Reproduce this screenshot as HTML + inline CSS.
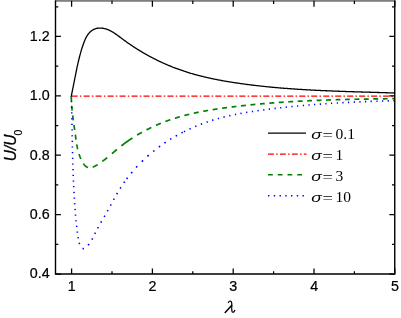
<!DOCTYPE html>
<html><head><meta charset="utf-8"><title>U/U0 vs lambda</title>
<style>
html,body{margin:0;padding:0;background:#fff;}
body{width:401px;height:318px;overflow:hidden;position:relative;font-family:"Liberation Sans",sans-serif;}
svg{position:absolute;left:0;top:0;display:block;will-change:transform;}
.t{font-family:"Liberation Sans",sans-serif;font-size:14.3px;fill:#000;stroke:#000;stroke-width:0.22px;}
.s{font-family:"Liberation Serif",serif;font-size:15.5px;fill:#000;}
</style></head><body>
<svg width="401" height="318" viewBox="0 0 401 318">
<rect x="0" y="0" width="401" height="318" fill="#fff"/>
<g fill="none" stroke-linecap="butt" stroke-linejoin="round">
<path d="M71.60,96.05 H394.75" stroke="#ff0000" stroke-width="1.3" stroke-dasharray="6.1 2.19 1.5 2.19"/>
<path d="M71.30,96.00 L71.30,96.53 L71.31,97.05 L71.31,97.58 L71.32,98.11 L71.34,98.64 L71.35,99.16 L71.37,99.69 L71.39,100.22 L71.41,100.75 L71.42,101.01 M71.70,105.78 L71.74,106.31 L71.79,106.84 L71.83,107.37 L71.87,107.90 L71.92,108.43 L71.97,108.96 L72.02,109.49 L72.07,110.02 L72.13,110.55 L72.14,110.68 M72.66,115.32 L72.72,115.85 L72.79,116.38 L72.85,116.91 L72.92,117.44 L72.99,117.97 L73.06,118.50 L73.13,119.03 L73.20,119.56 L73.27,120.09 L73.30,120.35 M73.95,124.98 L74.02,125.50 L74.10,126.03 L74.17,126.56 L74.25,127.08 L74.32,127.61 L74.40,128.14 L74.48,128.66 L74.55,129.19 L74.63,129.71 L74.66,129.98 M75.33,134.69 L75.40,135.21 L75.47,135.73 L75.54,136.25 L75.61,136.77 L75.68,137.29 L75.75,137.81 L75.83,138.33 L75.90,138.85 L75.97,139.37 L76.01,139.63 M76.72,144.28 L76.81,144.80 L76.91,145.31 L77.00,145.83 L77.10,146.35 L77.20,146.86 L77.31,147.38 L77.41,147.90 L77.53,148.41 L77.64,148.93 L77.73,149.31 M79.01,153.96 L79.18,154.47 L79.35,154.99 L79.53,155.50 L79.72,156.02 L79.91,156.54 L80.11,157.05 L80.31,157.57 L80.53,158.09 L80.74,158.61 L80.91,158.99 M83.37,163.59 L83.68,164.03 L84.00,164.46 L84.33,164.86 L84.67,165.25 L85.02,165.62 L85.39,165.96 L85.76,166.28 L86.14,166.57 L86.53,166.83 L86.94,167.06 L87.36,167.26 L87.79,167.43 L88.01,167.50 M92.71,167.15 L93.19,166.96 L93.68,166.75 L94.16,166.53 L94.64,166.28 L95.13,166.03 L95.61,165.76 L96.09,165.48 L96.56,165.20 L97.04,164.91 L97.51,164.61 L97.63,164.54 M102.26,161.39 L102.70,161.08 L103.13,160.76 L103.57,160.43 L104.00,160.11 L104.42,159.78 L104.85,159.46 L105.27,159.13 L105.69,158.80 L106.11,158.47 L106.53,158.14 L106.95,157.80 L107.26,157.55 M111.96,153.66 L112.36,153.32 L112.76,152.98 L113.16,152.63 L113.57,152.29 L113.97,151.95 L114.37,151.61 L114.77,151.27 L115.17,150.93 L115.58,150.59 L115.98,150.25 L116.38,149.91 L116.79,149.58 L116.99,149.41 M121.38,145.85 L121.79,145.52 L122.21,145.20 L122.63,144.88 L123.05,144.56 L123.47,144.24 L123.89,143.93 L124.31,143.61 L124.74,143.30 L125.16,142.98 L125.59,142.67 L126.02,142.36 L126.44,142.06 L126.87,141.75 L127.30,141.44 L127.74,141.14 L128.17,140.84 L128.60,140.54 L129.04,140.24 L129.48,139.94 L129.91,139.64 L130.35,139.35 L130.79,139.05 L131.23,138.76 L131.68,138.47 L132.12,138.18 L132.45,137.97 M137.06,135.09 L137.52,134.82 L137.98,134.55 L138.43,134.28 L138.89,134.01 L139.35,133.75 L139.81,133.48 L140.27,133.22 L140.73,132.96 L141.20,132.70 L141.66,132.44 L141.89,132.31 M146.46,129.86 L146.94,129.62 L147.41,129.38 L147.88,129.14 L148.36,128.90 L148.84,128.66 L149.31,128.43 L149.79,128.20 L150.27,127.96 L150.75,127.73 L151.23,127.50 L151.35,127.44 M155.95,125.34 L156.43,125.13 L156.92,124.91 L157.41,124.70 L157.90,124.49 L158.39,124.29 L158.88,124.08 L159.37,123.87 L159.86,123.67 L160.35,123.47 L160.85,123.27 M165.43,121.48 L165.92,121.30 L166.42,121.12 L166.92,120.93 L167.42,120.75 L167.92,120.57 L168.42,120.40 L168.92,120.22 L169.42,120.04 L169.92,119.87 L170.30,119.74 M174.83,118.25 L175.34,118.10 L175.84,117.94 L176.35,117.78 L176.86,117.63 L177.36,117.48 L177.87,117.32 L178.38,117.17 L178.89,117.03 L179.40,116.88 L179.78,116.77 M184.37,115.50 L184.88,115.37 L185.40,115.23 L185.91,115.10 L186.42,114.97 L186.94,114.84 L187.45,114.71 L187.96,114.59 L188.48,114.46 L188.99,114.33 L189.25,114.27 M193.77,113.22 L194.28,113.11 L194.80,113.00 L195.32,112.88 L195.84,112.77 L196.36,112.66 L196.87,112.55 L197.39,112.44 L197.91,112.34 L198.43,112.23 L198.69,112.18 M203.25,111.29 L203.77,111.19 L204.29,111.09 L204.81,111.00 L205.33,110.90 L205.86,110.81 L206.38,110.71 L206.90,110.62 L207.42,110.53 L207.95,110.44 L208.08,110.41 M212.66,109.65 L213.19,109.57 L213.71,109.48 L214.24,109.40 L214.76,109.32 L215.29,109.24 L215.81,109.16 L216.34,109.08 L216.86,109.00 L217.39,108.92 L217.52,108.90 M222.12,108.24 L222.65,108.16 L223.17,108.09 L223.70,108.02 L224.23,107.94 L224.75,107.87 L225.28,107.80 L225.81,107.73 L226.33,107.66 L226.86,107.59 L226.99,107.58 M231.61,106.99 L232.13,106.92 L232.66,106.86 L233.19,106.79 L233.71,106.73 L234.24,106.66 L234.77,106.60 L235.30,106.53 L235.82,106.47 L236.35,106.41 L236.48,106.39 M240.97,105.88 L241.50,105.82 L242.02,105.76 L242.55,105.70 L243.08,105.64 L243.61,105.58 L244.13,105.53 L244.66,105.47 L245.19,105.41 L245.72,105.36 L245.85,105.34 M250.47,104.86 L251.00,104.81 L251.53,104.76 L252.05,104.71 L252.58,104.65 L253.11,104.60 L253.64,104.55 L254.17,104.50 L254.69,104.45 L255.22,104.40 L255.36,104.39 M259.98,103.96 L260.51,103.91 L261.04,103.86 L261.56,103.82 L262.09,103.77 L262.62,103.72 L263.15,103.68 L263.68,103.63 L264.21,103.59 L264.74,103.54 M269.36,103.16 L269.89,103.12 L270.42,103.08 L270.95,103.04 L271.48,103.00 L272.01,102.96 L272.53,102.92 L273.06,102.87 L273.59,102.83 L274.12,102.79 L274.25,102.78 M278.75,102.46 L279.28,102.42 L279.81,102.38 L280.34,102.35 L280.87,102.31 L281.40,102.28 L281.93,102.24 L282.45,102.20 L282.98,102.17 L283.51,102.13 L283.65,102.12 M288.28,101.83 L288.81,101.80 L289.34,101.76 L289.87,101.73 L290.40,101.70 L290.92,101.67 L291.45,101.64 L291.98,101.61 L292.51,101.58 L293.04,101.55 L293.18,101.54 M297.68,101.29 L298.21,101.26 L298.74,101.23 L299.27,101.20 L299.80,101.18 L300.33,101.15 L300.86,101.12 L301.39,101.09 L301.92,101.07 L302.45,101.04 L302.58,101.03 M307.21,100.81 L307.74,100.79 L308.27,100.76 L308.80,100.74 L309.33,100.71 L309.86,100.69 L310.39,100.67 L310.92,100.64 L311.45,100.62 L311.98,100.60 M316.62,100.40 L317.15,100.38 L317.68,100.36 L318.21,100.34 L318.74,100.32 L319.27,100.30 L319.80,100.28 L320.33,100.26 L320.86,100.24 L321.39,100.22 L321.53,100.22 M326.03,100.06 L326.56,100.04 L327.10,100.02 L327.63,100.00 L328.16,99.98 L328.69,99.97 L329.22,99.95 L329.75,99.93 L330.28,99.92 L330.81,99.90 L330.94,99.89 M335.58,99.75 L336.11,99.74 L336.64,99.72 L337.17,99.71 L337.70,99.69 L338.23,99.68 L338.77,99.66 L339.30,99.65 L339.83,99.64 L340.36,99.62 M345.00,99.50 L345.53,99.49 L346.06,99.48 L346.59,99.46 L347.12,99.45 L347.65,99.44 L348.18,99.43 L348.71,99.41 L349.25,99.40 L349.78,99.39 M354.42,99.29 L354.95,99.28 L355.48,99.27 L356.01,99.25 L356.54,99.24 L357.07,99.23 L357.60,99.22 L358.14,99.21 L358.67,99.20 L359.20,99.19 L359.33,99.19 M363.84,99.11 L364.37,99.10 L364.90,99.09 L365.43,99.08 L365.96,99.07 L366.50,99.06 L367.03,99.05 L367.56,99.04 L368.09,99.03 L368.62,99.02 L368.75,99.02 M373.26,98.95 L373.80,98.94 L374.33,98.93 L374.86,98.92 L375.39,98.91 L375.92,98.91 L376.45,98.90 L376.98,98.89 L377.51,98.88 L378.04,98.87 L378.17,98.87 M382.82,98.81 L383.35,98.80 L383.88,98.79 L384.41,98.78 L384.94,98.78 L385.47,98.77 L386.01,98.76 L386.54,98.75 L387.07,98.75 L387.60,98.74 M392.24,98.68 L392.77,98.67 L393.31,98.66 L393.84,98.66 L394.37,98.65 L394.50,98.65" stroke="#008000" stroke-width="1.7"/>
<path d="M71.30,96.00 L71.32,96.53 M71.45,101.10 L71.47,101.80 L71.48,102.33 M71.59,106.72 L71.61,107.42 L71.62,107.95 M71.73,112.34 L71.74,113.04 L71.75,113.57 M71.85,118.13 L71.87,118.83 L71.88,119.36 M71.97,123.75 L71.98,124.45 L71.99,124.98 M72.08,129.37 L72.09,130.07 L72.10,130.60 M72.19,135.16 L72.20,135.86 L72.21,136.39 M72.30,140.77 L72.31,141.48 L72.32,142.00 M72.42,146.39 L72.43,147.09 L72.44,147.62 M72.54,152.00 L72.56,152.71 L72.57,153.23 M72.68,157.80 L72.70,158.50 L72.72,159.02 M72.84,163.41 L72.86,164.11 L72.87,164.64 M73.01,169.03 L73.03,169.73 L73.05,170.26 M73.21,174.82 L73.23,175.52 L73.25,176.05 M73.43,180.44 L73.46,181.14 L73.48,181.67 M73.68,186.05 L73.71,186.76 L73.73,187.28 M73.97,191.85 L74.00,192.55 L74.03,193.08 M74.28,197.47 L74.32,198.17 L74.36,198.70 M74.64,203.09 L74.68,203.79 L74.72,204.32 M75.05,208.87 L75.10,209.57 L75.14,210.10 M75.50,214.47 L75.56,215.16 L75.60,215.69 M76.02,220.21 L76.08,220.91 L76.13,221.43 M76.58,225.77 L76.66,226.46 L76.72,226.98 M77.26,231.51 L77.35,232.21 L77.42,232.74 M78.05,237.14 L78.16,237.85 L78.25,238.39 M79.18,242.77 L79.39,243.44 L79.64,244.10 M82.56,248.36 L83.10,248.60 L83.67,248.63 L83.96,248.57 M88.02,245.29 L88.48,244.75 L88.92,244.21 L89.13,243.93 M91.89,239.64 L92.22,239.01 L92.56,238.39 M94.77,233.92 L95.09,233.28 L95.40,232.64 M97.69,228.27 L98.02,227.65 L98.36,227.03 M100.83,222.61 L101.18,222.01 L101.52,221.40 L101.61,221.25 M104.13,216.88 L104.48,216.28 L104.83,215.67 M107.33,211.27 L107.68,210.66 L108.02,210.04 M110.47,205.57 L110.80,204.95 L111.14,204.32 M113.58,199.81 L113.92,199.19 L114.27,198.57 M116.69,194.25 L117.04,193.63 L117.40,193.02 M120.13,188.48 L120.51,187.88 L120.89,187.29 M123.82,182.89 L124.22,182.32 L124.63,181.74 L124.73,181.60 M126.69,178.90 L127.12,178.34 L127.54,177.78 L127.65,177.64 M131.14,173.24 L131.58,172.70 L132.04,172.16 L132.26,171.90 M136.08,167.55 L136.55,167.04 L137.03,166.52 L137.27,166.27 M141.79,161.63 L142.29,161.14 L142.80,160.65 L143.05,160.41 M147.42,156.37 L147.94,155.90 L148.47,155.44 L148.73,155.21 M153.16,151.49 L153.71,151.05 L154.26,150.61 L154.39,150.50 M158.84,147.09 L159.41,146.67 L159.98,146.26 L160.12,146.16 M164.43,143.13 L165.01,142.74 L165.59,142.35 L165.74,142.25 M170.17,139.40 L170.76,139.03 L171.36,138.66 M175.75,136.07 L176.36,135.72 L176.97,135.38 L177.12,135.29 M181.45,132.95 L182.07,132.62 L182.70,132.30 M183.95,131.66 L184.58,131.35 L185.05,131.12 M189.49,128.99 L190.13,128.70 L190.77,128.41 M195.12,126.51 L195.77,126.24 L196.42,125.97 M200.83,124.22 L201.49,123.97 L202.14,123.72 M206.61,122.13 L207.27,121.90 L207.77,121.73 M212.11,120.33 L212.78,120.12 L213.45,119.92 M217.83,118.65 L218.50,118.47 L219.01,118.33 M223.42,117.18 L224.11,117.01 L224.79,116.84 M229.23,115.80 L229.91,115.65 L230.43,115.53 M234.90,114.59 L235.59,114.45 L236.10,114.35 M240.42,113.52 L241.11,113.39 L241.63,113.30 M246.13,112.51 L246.83,112.39 L247.35,112.31 M251.87,111.58 L252.56,111.48 L253.09,111.40 M257.44,110.75 L258.14,110.65 L258.66,110.57 M263.19,109.94 L263.89,109.85 L264.41,109.78 M268.77,109.21 L269.47,109.12 L269.99,109.05 M274.52,108.49 L275.22,108.40 L275.75,108.34 M280.11,107.83 L280.80,107.75 L281.33,107.69 M285.69,107.20 L286.39,107.13 L286.91,107.07 M291.45,106.60 L292.15,106.53 L292.67,106.47 M297.04,106.05 L297.74,105.98 L298.26,105.93 M302.81,105.51 L303.50,105.45 L304.03,105.40 M308.40,105.02 L309.10,104.96 L309.62,104.92 M313.99,104.57 L314.69,104.51 L315.22,104.47 M319.76,104.13 L320.46,104.08 L320.99,104.04 M325.36,103.73 L326.06,103.68 L326.59,103.65 M330.96,103.36 L331.66,103.32 L332.19,103.28 M336.74,103.01 L337.44,102.97 L337.97,102.93 M342.35,102.69 L343.05,102.65 L343.58,102.62 M347.96,102.39 L348.66,102.36 L349.18,102.33 M353.74,102.11 L354.44,102.08 L354.97,102.06 M359.36,101.86 L360.06,101.83 L360.58,101.81 M364.97,101.63 L365.67,101.60 L366.20,101.58 M370.59,101.42 L371.29,101.39 L371.82,101.38 M376.39,101.22 L377.09,101.20 L377.62,101.18 M382.01,101.04 L382.72,101.02 L383.24,101.01 M387.64,100.88 L388.34,100.86 L388.87,100.85 M393.27,100.74 L393.97,100.72 L394.50,100.70" stroke="#0000ff" stroke-width="1.6"/>
<path d="M71.30,96.00 L71.46,95.25 L71.62,94.50 L71.77,93.75 L71.93,93.00 L72.08,92.24 L72.24,91.49 L72.39,90.74 L72.54,89.98 L72.70,89.22 L72.85,88.47 L73.00,87.71 L73.15,86.95 L73.30,86.19 L73.45,85.43 L73.60,84.67 L73.75,83.91 L73.90,83.15 L74.05,82.39 L74.19,81.63 L74.34,80.87 L74.49,80.11 L74.64,79.35 L74.79,78.59 L74.94,77.83 L75.09,77.07 L75.24,76.31 L75.40,75.55 L75.55,74.79 L75.70,74.03 L75.85,73.27 L76.01,72.51 L76.16,71.75 L76.32,70.99 L76.48,70.24 L76.63,69.48 L76.79,68.72 L76.95,67.97 L77.11,67.21 L77.27,66.46 L77.44,65.71 L77.60,64.96 L77.77,64.21 L77.94,63.46 L78.11,62.71 L78.28,61.97 L78.45,61.22 L78.62,60.48 L78.80,59.73 L78.98,58.99 L79.16,58.25 L79.34,57.51 L79.53,56.77 L79.72,56.03 L79.91,55.29 L80.11,54.56 L80.31,53.82 L80.51,53.08 L80.72,52.35 L80.93,51.61 L81.14,50.87 L81.36,50.13 L81.59,49.40 L81.82,48.66 L82.05,47.92 L82.29,47.18 L82.54,46.44 L82.79,45.70 L83.05,44.95 L83.31,44.21 L83.58,43.47 L83.85,42.72 L84.14,41.97 L84.43,41.23 L84.73,40.49 L85.04,39.75 L85.37,39.02 L85.71,38.30 L86.06,37.59 L86.43,36.90 L86.82,36.22 L87.22,35.55 L87.65,34.90 L88.10,34.27 L88.57,33.66 L89.07,33.08 L89.59,32.52 L90.13,31.98 L90.69,31.47 L91.28,31.00 L91.89,30.55 L92.52,30.14 L93.16,29.75 L93.83,29.41 L94.51,29.10 L95.21,28.83 L95.93,28.60 L96.66,28.41 L97.40,28.26 L98.15,28.16 L98.92,28.09 L99.68,28.06 L100.45,28.06 L101.22,28.09 L101.99,28.16 L102.75,28.25 L103.50,28.38 L104.24,28.53 L104.97,28.70 L105.69,28.90 L106.41,29.12 L107.12,29.37 L107.82,29.63 L108.51,29.92 L109.20,30.22 L109.88,30.54 L110.56,30.88 L111.23,31.24 L111.89,31.61 L112.56,32.00 L113.21,32.39 L113.86,32.80 L114.51,33.23 L115.16,33.66 L115.80,34.10 L116.44,34.54 L117.08,35.00 L117.71,35.46 L118.35,35.93 L118.98,36.39 L119.61,36.87 L120.24,37.34 L120.87,37.82 L121.51,38.29 L122.14,38.76 L122.77,39.23 L123.41,39.70 L124.04,40.17 L124.68,40.63 L125.32,41.09 L125.96,41.55 L126.60,42.01 L127.24,42.46 L127.88,42.91 L128.52,43.36 L129.17,43.80 L129.81,44.25 L130.46,44.69 L131.10,45.13 L131.75,45.56 L132.40,45.99 L133.05,46.42 L133.70,46.85 L134.36,47.28 L135.01,47.70 L135.66,48.12 L136.32,48.54 L136.98,48.95 L137.63,49.37 L138.29,49.78 L138.95,50.18 L139.61,50.59 L140.28,50.99 L140.94,51.39 L141.60,51.79 L142.27,52.18 L142.94,52.57 L143.60,52.96 L144.27,53.35 L144.94,53.74 L145.61,54.12 L146.28,54.50 L146.96,54.87 L147.63,55.25 L148.30,55.62 L148.98,55.99 L149.66,56.36 L150.33,56.72 L151.01,57.08 L151.69,57.44 L152.37,57.80 L153.06,58.15 L153.74,58.50 L154.42,58.85 L155.11,59.20 L155.80,59.54 L156.48,59.88 L157.17,60.22 L157.86,60.56 L158.55,60.89 L159.24,61.22 L159.93,61.55 L160.63,61.88 L161.32,62.20 L162.02,62.52 L162.72,62.84 L163.41,63.16 L164.11,63.47 L164.81,63.78 L165.51,64.09 L166.21,64.40 L166.92,64.70 L167.62,65.00 L168.33,65.30 L169.03,65.59 L169.74,65.89 L170.45,66.18 L171.16,66.47 L171.87,66.75 L172.58,67.03 L173.29,67.32 L174.00,67.59 L174.72,67.87 L175.43,68.14 L176.15,68.41 L176.87,68.68 L177.59,68.94 L178.31,69.21 L179.03,69.47 L179.75,69.72 L180.47,69.98 L181.19,70.23 L181.92,70.48 L182.64,70.73 L183.37,70.97 L184.10,71.22 L184.83,71.45 L185.56,71.69 L186.29,71.93 L187.02,72.16 L187.75,72.39 L188.49,72.62 L189.22,72.84 L189.96,73.06 L190.69,73.28 L191.43,73.50 L192.17,73.71 L192.91,73.93 L193.65,74.14 L194.39,74.35 L195.13,74.55 L195.88,74.76 L196.62,74.96 L197.36,75.16 L198.11,75.35 L198.86,75.55 L199.60,75.74 L200.35,75.93 L201.10,76.12 L201.85,76.31 L202.60,76.49 L203.35,76.67 L204.10,76.85 L204.85,77.03 L205.60,77.21 L206.35,77.38 L207.11,77.55 L207.86,77.72 L208.62,77.89 L209.37,78.06 L210.13,78.22 L210.89,78.39 L211.64,78.55 L212.40,78.71 L213.16,78.87 L213.92,79.02 L214.68,79.18 L215.44,79.33 L216.20,79.48 L216.96,79.63 L217.72,79.78 L218.48,79.92 L219.24,80.07 L220.00,80.21 L220.76,80.35 L221.53,80.49 L222.29,80.63 L223.05,80.77 L223.82,80.90 L224.58,81.04 L225.34,81.17 L226.11,81.30 L226.87,81.43 L227.64,81.56 L228.40,81.68 L229.17,81.81 L229.93,81.94 L230.70,82.06 L231.47,82.18 L232.23,82.30 L233.00,82.42 L233.76,82.54 L234.53,82.66 L235.30,82.77 L236.06,82.89 L236.83,83.00 L237.60,83.12 L238.36,83.23 L239.13,83.34 L239.90,83.45 L240.66,83.56 L241.43,83.67 L242.20,83.77 L242.96,83.88 L243.73,83.98 L244.50,84.09 L245.26,84.19 L246.03,84.29 L246.80,84.39 L247.56,84.49 L248.33,84.59 L249.10,84.69 L249.86,84.79 L250.63,84.89 L251.40,84.98 L252.17,85.08 L252.93,85.17 L253.70,85.26 L254.47,85.35 L255.23,85.44 L256.00,85.53 L256.77,85.62 L257.54,85.71 L258.30,85.80 L259.07,85.89 L259.84,85.97 L260.61,86.06 L261.37,86.14 L262.14,86.22 L262.91,86.30 L263.68,86.39 L264.44,86.47 L265.21,86.55 L265.98,86.63 L266.75,86.70 L267.51,86.78 L268.28,86.86 L269.05,86.93 L269.82,87.01 L270.58,87.08 L271.35,87.15 L272.12,87.23 L272.89,87.30 L273.66,87.37 L274.42,87.44 L275.19,87.51 L275.96,87.58 L276.73,87.65 L277.50,87.71 L278.26,87.78 L279.03,87.85 L279.80,87.91 L280.57,87.98 L281.34,88.04 L282.10,88.10 L282.87,88.16 L283.64,88.23 L284.41,88.29 L285.18,88.35 L285.95,88.41 L286.71,88.47 L287.48,88.52 L288.25,88.58 L289.02,88.64 L289.79,88.70 L290.56,88.75 L291.32,88.81 L292.09,88.86 L292.86,88.92 L293.63,88.97 L294.40,89.02 L295.17,89.07 L295.94,89.13 L296.71,89.18 L297.47,89.23 L298.24,89.28 L299.01,89.33 L299.78,89.37 L300.55,89.42 L301.32,89.47 L302.09,89.52 L302.86,89.56 L303.63,89.61 L304.40,89.66 L305.16,89.70 L305.93,89.74 L306.70,89.79 L307.47,89.83 L308.24,89.88 L309.01,89.92 L309.78,89.96 L310.55,90.00 L311.32,90.04 L312.09,90.08 L312.86,90.12 L313.63,90.16 L314.40,90.20 L315.17,90.24 L315.94,90.28 L316.71,90.32 L317.48,90.35 L318.24,90.39 L319.01,90.43 L319.78,90.46 L320.55,90.50 L321.32,90.54 L322.09,90.57 L322.86,90.61 L323.63,90.64 L324.40,90.67 L325.17,90.71 L325.94,90.74 L326.71,90.77 L327.48,90.81 L328.25,90.84 L329.02,90.87 L329.79,90.90 L330.57,90.93 L331.34,90.97 L332.11,91.00 L332.88,91.03 L333.65,91.06 L334.42,91.09 L335.19,91.12 L335.96,91.15 L336.73,91.17 L337.50,91.20 L338.27,91.23 L339.04,91.26 L339.81,91.29 L340.58,91.32 L341.35,91.34 L342.12,91.37 L342.89,91.40 L343.67,91.42 L344.44,91.45 L345.21,91.48 L345.98,91.50 L346.75,91.53 L347.52,91.55 L348.29,91.58 L349.06,91.61 L349.83,91.63 L350.61,91.66 L351.38,91.68 L352.15,91.71 L352.92,91.73 L353.69,91.75 L354.46,91.78 L355.23,91.80 L356.00,91.83 L356.78,91.85 L357.55,91.88 L358.32,91.90 L359.09,91.92 L359.86,91.95 L360.63,91.97 L361.41,91.99 L362.18,92.02 L362.95,92.04 L363.72,92.06 L364.49,92.09 L365.27,92.11 L366.04,92.13 L366.81,92.16 L367.58,92.18 L368.35,92.20 L369.13,92.22 L369.90,92.25 L370.67,92.27 L371.44,92.29 L372.22,92.32 L372.99,92.34 L373.76,92.36 L374.53,92.38 L375.31,92.41 L376.08,92.43 L376.85,92.45 L377.62,92.48 L378.40,92.50 L379.17,92.52 L379.94,92.55 L380.71,92.57 L381.49,92.59 L382.26,92.62 L383.03,92.64 L383.81,92.66 L384.58,92.69 L385.35,92.71 L386.12,92.73 L386.90,92.76 L387.67,92.78 L388.44,92.81 L389.22,92.83 L389.99,92.86 L390.76,92.88 L391.54,92.91 L392.31,92.93 L393.08,92.96 L393.86,92.98 L394.50,93.00" stroke="#000" stroke-width="1.3"/>
<rect x="54.85" y="0" width="340.55" height="1.8" fill="#808080" stroke="none"/>
<path d="M55.5,0.6 V274.0 H394.75 V0.6" stroke="#000" stroke-width="1.4" stroke-linejoin="miter"/>
<path d="M71.60,274.0 v-5.6 M71.60,0.7 v6.1 M152.40,274.0 v-5.6 M152.40,0.7 v6.1 M233.20,274.0 v-5.6 M233.20,0.7 v6.1 M314.00,274.0 v-5.6 M314.00,0.7 v6.1 M394.80,274.0 v-5.6 M394.80,0.7 v6.1 M112.00,274.0 v-2.8 M112.00,0.7 v3.2 M192.80,274.0 v-2.8 M192.80,0.7 v3.2 M273.60,274.0 v-2.8 M273.60,0.7 v3.2 M354.40,274.0 v-2.8 M354.40,0.7 v3.2 M55.5,274.00 h5.4 M394.75,274.00 h-5.4 M55.5,214.62 h5.4 M394.75,214.62 h-5.4 M55.5,155.24 h5.4 M394.75,155.24 h-5.4 M55.5,95.86 h5.4 M394.75,95.86 h-5.4 M55.5,36.48 h5.4 M394.75,36.48 h-5.4 M55.5,244.31 h2.8 M394.75,244.31 h-2.8 M55.5,184.93 h2.8 M394.75,184.93 h-2.8 M55.5,125.55 h2.8 M394.75,125.55 h-2.8 M55.5,66.17 h2.8 M394.75,66.17 h-2.8 M55.5,6.79 h2.8 M394.75,6.79 h-2.8" stroke="#000" stroke-width="1.25"/>
<path d="M268,133.0 H306" stroke="#000" stroke-width="1.25"/>
<path d="M268,154.1 H306.5" stroke="#ff0000" stroke-width="1.25" stroke-dasharray="5.9 2.25 1.5 2.3"/>
<path d="M268,174.8 H306" stroke="#008000" stroke-width="1.4" stroke-dasharray="4.8 4.95"/>
<path d="M268,195.7 H306" stroke="#0000ff" stroke-width="1.45" stroke-dasharray="1.4 4.35"/>
</g>
<g class="t"><text transform="translate(71.7,291.05) scale(1,1.045)" text-anchor="middle">1</text><text transform="translate(152.5,291.05) scale(1,1.045)" text-anchor="middle">2</text><text transform="translate(233.3,291.05) scale(1,1.045)" text-anchor="middle">3</text><text transform="translate(314.1,291.05) scale(1,1.045)" text-anchor="middle">4</text><text transform="translate(394.9,291.05) scale(1,1.045)" text-anchor="middle">5</text><text transform="translate(49.6,278.30) scale(1,1.045)" text-anchor="end">0.4</text><text transform="translate(49.6,218.92) scale(1,1.045)" text-anchor="end">0.6</text><text transform="translate(49.6,159.54) scale(1,1.045)" text-anchor="end">0.8</text><text transform="translate(49.6,100.16) scale(1,1.045)" text-anchor="end">1.0</text><text transform="translate(49.6,40.78) scale(1,1.045)" text-anchor="end">1.2</text></g>
<text transform="translate(311.3,139) scale(1.28,1)" style="font-family:'Liberation Sans',sans-serif;font-style:italic;font-size:13.6px;fill:#000">σ</text><text transform="translate(322.6,140.3) scale(1.18,1)" class="s">=</text><text class="s" x="335.55" y="139">0.1</text><text transform="translate(311.3,160) scale(1.28,1)" style="font-family:'Liberation Sans',sans-serif;font-style:italic;font-size:13.6px;fill:#000">σ</text><text transform="translate(322.6,161.3) scale(1.18,1)" class="s">=</text><text class="s" x="335.55" y="160">1</text><text transform="translate(311.3,181) scale(1.28,1)" style="font-family:'Liberation Sans',sans-serif;font-style:italic;font-size:13.6px;fill:#000">σ</text><text transform="translate(322.6,182.3) scale(1.18,1)" class="s">=</text><text class="s" x="335.55" y="181">3</text><text transform="translate(311.3,202) scale(1.28,1)" style="font-family:'Liberation Sans',sans-serif;font-style:italic;font-size:13.6px;fill:#000">σ</text><text transform="translate(322.6,203.3) scale(1.18,1)" class="s">=</text><text class="s" x="335.55" y="202">10</text>
<g fill="none" stroke="#000" stroke-linecap="round" stroke-linejoin="round">
<path d="M228.4,302.5 C228.9,301.3 230.0,300.8 230.9,301.2 C231.9,301.8 231.9,303.6 231.8,305.8 C231.6,308.2 231.6,310.0 232.0,311.2 C232.4,312.3 233.3,312.5 233.9,311.8 C234.3,311.3 234.6,310.8 234.7,310.3" stroke-width="1.25"/>
<path d="M231.6,305.6 L225.2,312.5" stroke-width="1.5"/>
</g>
<g transform="translate(15.7,161.2) rotate(-90)" style="font-family:'Liberation Sans',sans-serif;fill:#000;stroke:#000">
<text x="0" y="0" transform="scale(1,1.05)" style="font-style:italic;font-size:15.5px;stroke-width:0.3px">U/U</text>
<text x="25.7" y="6" style="font-size:10.5px;stroke-width:0.2px">0</text>
</g>
</svg>
</body></html>
